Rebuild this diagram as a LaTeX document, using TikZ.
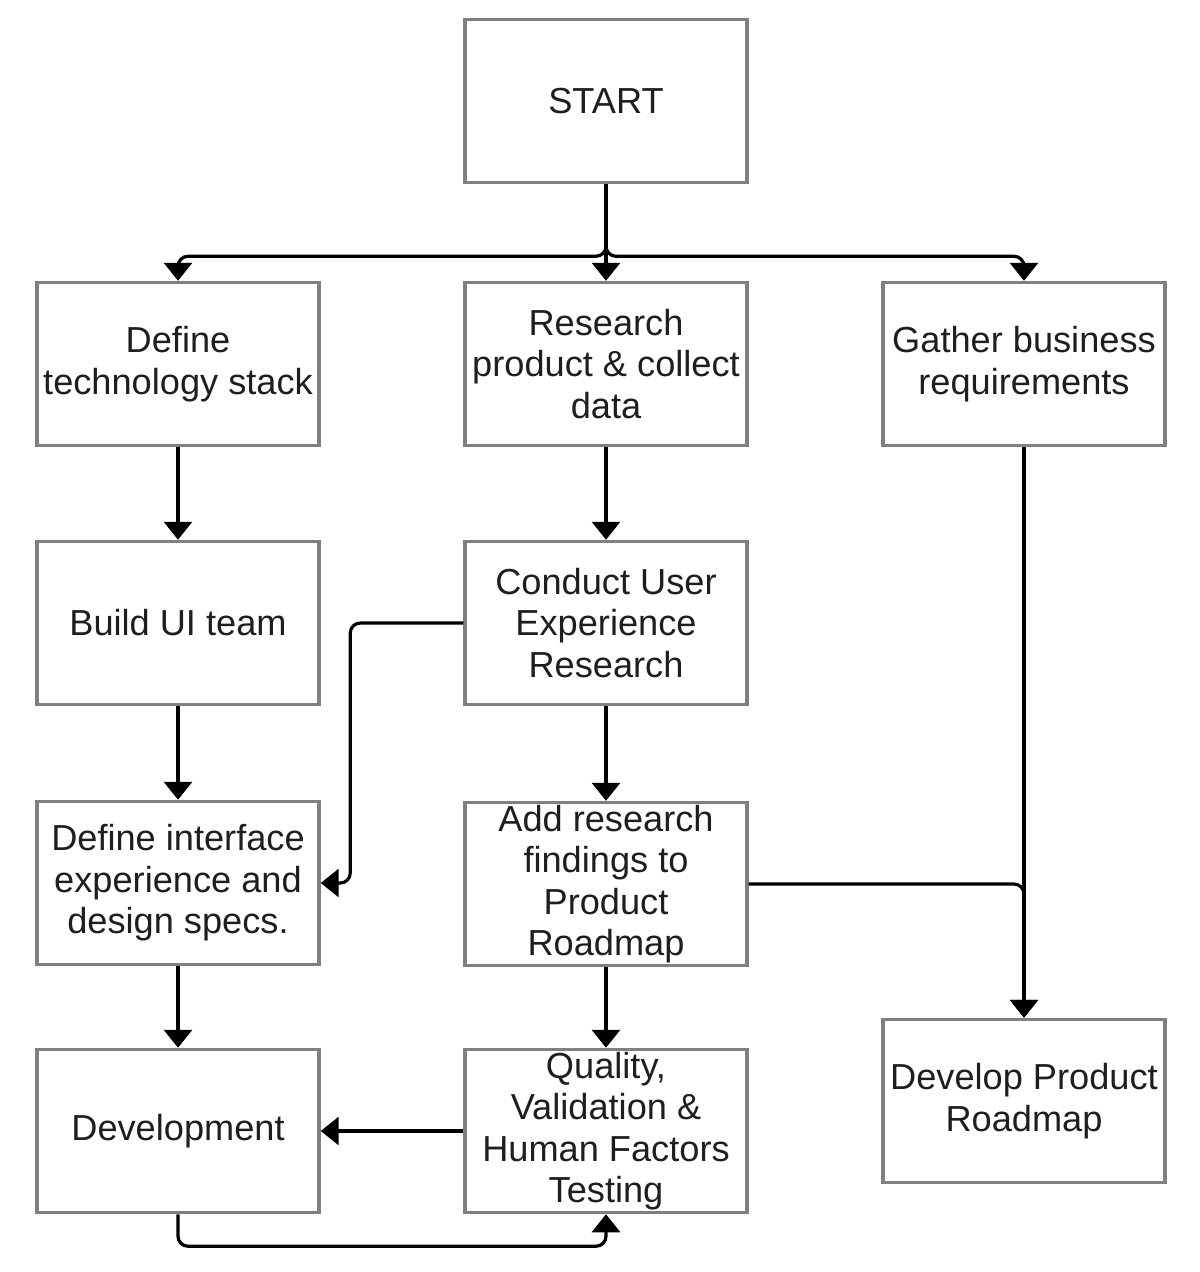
\documentclass[tikz,border=0pt]{standalone}
\usepackage{fontspec}
\setmainfont{Liberation Sans}
\usetikzlibrary{arrows.meta}
\definecolor{boxgray}{RGB}{128,128,128}
\definecolor{textgray}{RGB}{30,30,30}

\begin{document}
\begin{tikzpicture}[x=0.02cm, y=-0.02cm,
  every node/.style={rectangle, draw=boxgray, line width=2pt, minimum width=5.64cm, minimum height=3.26cm, inner sep=0pt, align=center, text=textgray, font=\fontsize{20.6}{23.6}\selectfont},
  flow/.style={line width=1.8pt, rounded corners=0.2cm, -{Triangle[width=0.56cm,length=0.36cm]}}]
  \useasboundingbox (0,0) rectangle (1200,1272);
  \node (start) at (606,101) {START};
  \node (tech) at (178,364) {Define\\technology stack};
  \node (research) at (606,364) {Research\\product \& collect\\data};
  \node (gather) at (1024,364) {Gather business\\requirements};
  \node (ui) at (178,623) {Build UI team};
  \node (ux) at (606,623) {Conduct User\\Experience\\Research};
  \node (iface) at (178,883) {Define interface\\experience and\\design specs.};
  \node (findings) at (606,884) {Add research\\findings to\\Product\\Roadmap};
  \node (dev) at (178,1131) {Development};
  \node (quality) at (606,1131) {Quality,\\Validation \&\\Human Factors\\Testing};
  \node (roadmap) at (1024,1101) {Develop Product\\Roadmap};
  \draw[flow] (start.south) -- (research.north);
  \draw[flow] (start.south) -- ++(0,72) -| (tech.north);
  \draw[flow] (start.south) -- ++(0,72) -| (gather.north);
  \draw[flow] (tech) -- (ui);
  \draw[flow] (ui) -- (iface);
  \draw[flow] (iface) -- (dev);
  \draw[flow] (research) -- (ux);
  \draw[flow] (ux) -- (findings);
  \draw[flow] (findings) -- (quality);
  \draw[flow] (ux.west) -- ++(-113,0) |- (iface.east);
  \draw[flow] (gather) -- (roadmap);
  \draw[flow] (findings.east) -| (roadmap.north);
  \draw[flow] (quality) -- (dev);
  \draw[flow] (dev.south) -- ++(0,32) -| (quality.south);
\end{tikzpicture}
\end{document}
